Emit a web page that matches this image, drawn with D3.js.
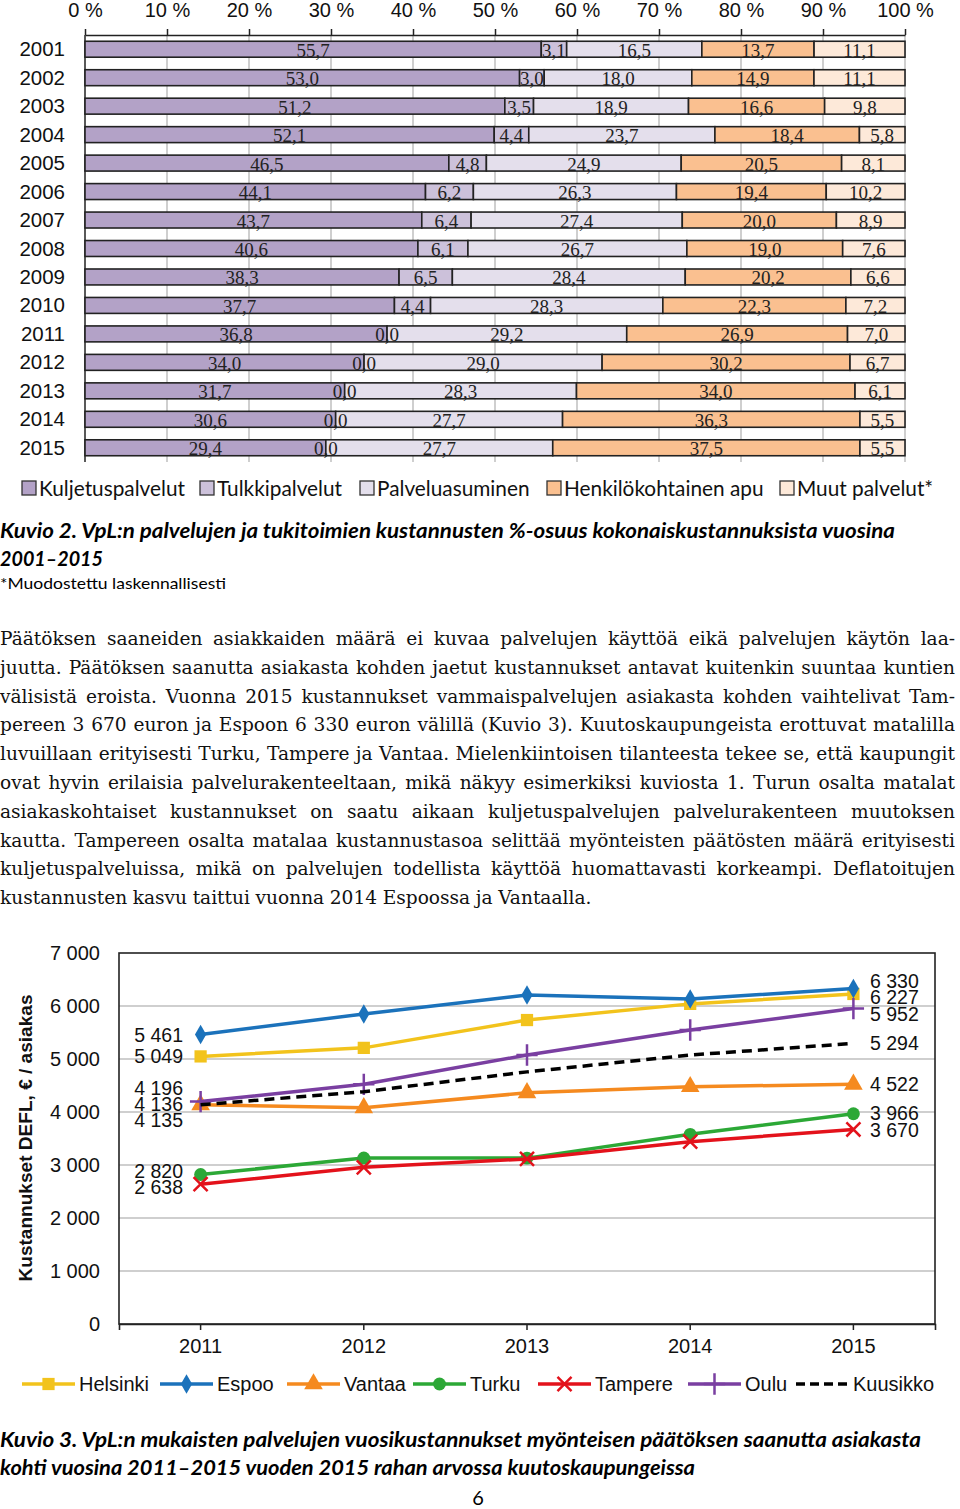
<!DOCTYPE html>
<html>
<head>
<meta charset="utf-8">
<script src="https://cdn.jsdelivr.net/npm/d3@7"></script>
<style>
  body { margin: 0; background: #fff; }
</style>
</head>
<body>
<svg id="page" width="960" height="1509"></svg>
<script>
// ---- Kuvio 2 data ----
const years = ["2001","2002","2003","2004","2005","2006","2007","2008","2009","2010","2011","2012","2013","2014","2015"];
const kuljetus = [55.7,53.0,51.2,52.1,46.5,44.1,43.7,40.6,38.3,37.7,36.8,34.0,31.7,30.6,29.4];
const tulkki   = [3.1,3.0,3.5,4.4,4.8,6.2,6.4,6.1,6.5,4.4,0.0,0.0,0.0,0.0,0.0];
const asuminen = [16.5,18.0,18.9,23.7,24.9,26.3,27.4,26.7,28.4,28.3,29.2,29.0,28.3,27.7,27.7];
const apu      = [13.7,14.9,16.6,18.4,20.5,19.4,20.0,19.0,20.2,22.3,26.9,30.2,34.0,36.3,37.5];
const muut     = [11.1,11.1,9.8,5.8,8.1,10.2,8.9,7.6,6.6,7.2,7.0,6.7,6.1,5.5,5.5];
const barKeys  = ["Kuljetuspalvelut","Tulkkipalvelut","Palveluasuminen","Henkilökohtainen apu","Muut palvelut*"];
const barColors = ["#b3a2c7","#ccc1da","#e4dfec","#fac090","#fde9d9"];
const pctTicks = [0,10,20,30,40,50,60,70,80,90,100];

// ---- Kuvio 3 data ----
const years2 = ["2011","2012","2013","2014","2015"];
const helsinki = [5049,5210,5735,6040,6227];
const espoo    = [5461,5850,6208,6130,6330];
const vantaa   = [4135,4078,4362,4478,4522];
const turku    = [2820,3132,3130,3579,3966];
const tampere  = [2638,2956,3115,3440,3670];
const oulu     = [4196,4522,5075,5547,5952];
const kuusikko = [4136,4384,4757,5075,5294];
const cities = ["Helsinki","Espoo","Vantaa","Turku","Tampere","Oulu","Kuusikko"];
const cityColors = ["#f2c31c","#1b72bb","#f58a1f","#2ca836","#e3121b","#7a3fa1","#000000"];
const yTicks2 = [0,1000,2000,3000,4000,5000,6000,7000];

const svg = d3.select("#page");
const sans = "'Liberation Sans', Arial, sans-serif";
const cal = "Lato, 'Open Sans', sans-serif";
const serif = "'Liberation Serif', 'DejaVu Serif', serif";
const bodySerif = "'DejaVu Serif', 'Liberation Serif', serif";
const comma1 = v => d3.format(".1f")(v).replace(".", ",");
const thou = v => d3.format(",")(v).replace(/,/g, " ");

// =================== Kuvio 2: 100 % stacked bars ===================
const rows = years.map((y, i) => ({
  year: y,
  [barKeys[0]]: kuljetus[i], [barKeys[1]]: tulkki[i], [barKeys[2]]: asuminen[i],
  [barKeys[3]]: apu[i], [barKeys[4]]: muut[i]
}));
const series = d3.stack().keys(barKeys).offset(d3.stackOffsetExpand)(rows);

const x1 = d3.scaleLinear().domain([0, 1]).range([85, 905]);
const y1 = d3.scaleBand().domain(years).range([35, 462]).paddingInner(0.44).paddingOuter(0.22);

const g1 = svg.append("g");
// grid
g1.selectAll("line.grid").data(pctTicks.slice(1)).join("line")
  .attr("x1", d => x1(d / 100)).attr("x2", d => x1(d / 100))
  .attr("y1", 35).attr("y2", 462)
  .attr("stroke", "#bfbfbf").attr("stroke-width", 1.5);
// top axis
const topAxis = d3.axisTop(x1).tickValues(pctTicks.map(d => d / 100))
  .tickFormat(d => Math.round(d * 100) + " %").tickSize(6).tickSizeOuter(0);
const ax1 = g1.append("g").attr("transform", "translate(0,35)").call(topAxis);
ax1.select(".domain").attr("stroke", "#222").attr("stroke-width", 1.5);
ax1.selectAll(".tick line").attr("stroke", "#222").attr("stroke-width", 1.5);
ax1.selectAll(".tick text").attr("font-family", sans).attr("font-size", 20)
  .attr("fill", "#111").attr("y", -18);
// left axis line
g1.append("line").attr("x1", 85).attr("x2", 85).attr("y1", 35).attr("y2", 462)
  .attr("stroke", "#222").attr("stroke-width", 1.5);
// year labels
g1.selectAll("text.yr").data(years).join("text")
  .attr("x", 65).attr("y", d => y1(d) + y1.bandwidth() / 2 + 7)
  .attr("text-anchor", "end").attr("font-family", sans).attr("font-size", 20.5)
  .attr("fill", "#111").text(d => d);
// bars
series.forEach((s, k) => {
  g1.append("g").selectAll("rect").data(s).join("rect")
    .attr("x", d => x1(d[0])).attr("width", d => Math.max(0, x1(d[1]) - x1(d[0])))
    .attr("y", d => y1(d.data.year)).attr("height", y1.bandwidth())
    .attr("fill", barColors[k]).attr("stroke", "#222").attr("stroke-width", 1.6);
});
series.forEach((s, k) => {
  g1.append("g").selectAll("text").data(s).join("text")
    .attr("x", d => (x1(d[0]) + x1(d[1])) / 2)
    .attr("y", d => y1(d.data.year) + y1.bandwidth() / 2 + 7.5)
    .attr("text-anchor", "middle").attr("font-family", serif).attr("font-size", 19)
    .attr("fill", "#222").text(d => comma1(d.data[s.key]));
});
// legend
const leg1X = [22, 200, 360, 547, 780];
const leg1 = g1.selectAll("g.leg").data(barKeys).join("g")
  .attr("transform", (d, i) => `translate(${leg1X[i]},481)`);
leg1.append("rect").attr("width", 14).attr("height", 14)
  .attr("fill", (d, i) => barColors[i]).attr("stroke", "#333").attr("stroke-width", 1.3);
leg1.append("text").attr("x", 17).attr("y", 14.5).attr("font-family", cal).attr("font-size", 20.8)
  .attr("fill", "#111").text(d => d);

// =================== captions & body text ===================
function cap(txt, y, w, size, bold) {
  const t = svg.append("text").attr("x", 0).attr("y", y).attr("font-family", cal)
    .attr("font-size", size).attr("fill", "#000").text(txt);
  if (bold) t.attr("font-weight", "bold").attr("font-style", "italic");
  if (w) t.attr("textLength", w).attr("lengthAdjust", "spacingAndGlyphs");
  return t;
}
cap("Kuvio 2. VpL:n palvelujen ja tukitoimien kustannusten %-osuus kokonaiskustannuksista vuosina", 538, 895, 20, true);
cap("2001–2015", 566, 103, 20, true);
cap("*Muodostettu laskennallisesti", 589, 226, 16, false);

const paragraph = [
  "Päätöksen saaneiden asiakkaiden määrä ei kuvaa palvelujen käyttöä eikä palvelujen käytön laa-",
  "juutta. Päätöksen saanutta asiakasta kohden jaetut kustannukset antavat kuitenkin suuntaa kuntien",
  "välisistä eroista. Vuonna 2015 kustannukset vammaispalvelujen asiakasta kohden vaihtelivat Tam-",
  "pereen 3 670 euron ja Espoon 6 330 euron välillä (Kuvio 3). Kuutoskaupungeista erottuvat matalilla",
  "luvuillaan erityisesti Turku, Tampere ja Vantaa. Mielenkiintoisen tilanteesta tekee se, että kaupungit",
  "ovat hyvin erilaisia palvelurakenteeltaan, mikä näkyy esimerkiksi kuviosta 1. Turun osalta matalat",
  "asiakaskohtaiset kustannukset on saatu aikaan kuljetuspalvelujen palvelurakenteen muutoksen",
  "kautta. Tampereen osalta matalaa kustannustasoa selittää myönteisten päätösten määrä erityisesti",
  "kuljetuspalveluissa, mikä on palvelujen todellista käyttöä huomattavasti korkeampi. Deflatoitujen",
  "kustannusten kasvu taittui vuonna 2014 Espoossa ja Vantaalla."
];
const pg = svg.append("g").attr("font-family", bodySerif).attr("fill", "#111");
// size the body font so the unjustified last line is as wide as in the page (~607 px)
const probe = pg.append("text").attr("font-size", 20).text(paragraph[paragraph.length - 1]);
let bodySize = 20 * 607 / probe.node().getComputedTextLength();
probe.remove();
// the longest line must still fit the column
const probe2 = pg.append("text").attr("font-size", bodySize).text(paragraph[4]);
const w5 = probe2.node().getComputedTextLength();
probe2.remove();
if (w5 > 950) bodySize *= 950 / w5;
pg.attr("font-size", bodySize);
paragraph.forEach((line, li) => {
  const y = 645 + li * 28.8;
  const words = line.split(" ");
  const texts = words.map(w => pg.append("text").attr("y", y).text(w));
  const widths = texts.map(t => t.node().getComputedTextLength());
  const total = d3.sum(widths);
  const justify = li < paragraph.length - 1;
  let gap = justify ? (955 - total) / (words.length - 1) : bodySize * 0.3;
  if (gap < 2) gap = 2;
  let xx = 0;
  texts.forEach((t, i) => { t.attr("x", xx); xx += widths[i] + gap; });
});

// =================== Kuvio 3: lines ===================
const x2 = d3.scaleBand().domain(years2).range([119, 935]);
const px = d => x2(d) + x2.bandwidth() / 2;
const y2 = d3.scaleLinear().domain([0, 7000]).range([1324, 953]);
const g2 = svg.append("g");

g2.selectAll("line.grid").data(yTicks2.slice(1, -1)).join("line")
  .attr("x1", 119).attr("x2", 935).attr("y1", d => y2(d)).attr("y2", d => y2(d))
  .attr("stroke", "#bfbfbf").attr("stroke-width", 1.5);
g2.append("rect").attr("x", 119).attr("y", y2(7000)).attr("width", 816).attr("height", y2(0) - y2(7000))
  .attr("fill", "none").attr("stroke", "#222").attr("stroke-width", 1.6);
// y tick labels
g2.selectAll("text.yt").data(yTicks2).join("text")
  .attr("x", 100).attr("y", d => y2(d) + 7).attr("text-anchor", "end")
  .attr("font-family", sans).attr("font-size", 20).attr("fill", "#111").text(thou);
// x axis
const bottomAxis = d3.axisBottom(x2).tickSize(6).tickSizeOuter(6);
const ax2 = g2.append("g").attr("transform", `translate(0,${y2(0)})`).call(bottomAxis);
ax2.select(".domain").attr("stroke", "#222").attr("stroke-width", 1.6);
ax2.selectAll(".tick line").attr("stroke", "#222").attr("stroke-width", 1.5);
ax2.selectAll(".tick text").attr("font-family", sans).attr("font-size", 20).attr("fill", "#111").attr("y", 15);
// y title
g2.append("text").attr("transform", "translate(32,1138) rotate(-90)").attr("text-anchor", "middle")
  .attr("font-family", sans).attr("font-weight", "bold").attr("font-size", 19).attr("fill", "#111")
  .attr("textLength", 287).attr("lengthAdjust", "spacingAndGlyphs")
  .text("Kustannukset DEFL, € / asiakas");

const cityVals = [helsinki, espoo, vantaa, turku, tampere, oulu, kuusikko];
const markerTypes = [d3.symbolSquare, d3.symbolDiamond, d3.symbolTriangle, d3.symbolCircle, d3.symbolTimes, d3.symbolPlus, null];
const markerSizes = [150, 110, 150, 130, 130, 150, 0];
const strokeMarker = [false, false, false, false, true, true, false];
const lineGen = d3.line().x((d, i) => px(years2[i])).y(d => y2(d));

function drawMarker(sel, k) {
  if (!markerTypes[k]) return;
  const p = sel.append("path").attr("d", d3.symbol().type(markerTypes[k]).size(markerSizes[k]));
  if (strokeMarker[k]) p.attr("fill", "none").attr("stroke", cityColors[k]).attr("stroke-width", 2.5);
  else p.attr("fill", cityColors[k]);
}

cityVals.forEach((vals, k) => {
  g2.append("path").datum(vals).attr("d", lineGen).attr("fill", "none")
    .attr("stroke", cityColors[k]).attr("stroke-width", 3.5)
    .attr("stroke-dasharray", k === 6 ? "10,6" : null);
  vals.forEach((v, i) => {
    const m = g2.append("g").attr("transform", `translate(${px(years2[i])},${y2(v)})`);
    drawMarker(m, k);
  });
});

// end labels (first and last year), spread apart where they collide
function spread(items, gap) {
  items.sort((a, b) => a.y - b.y);
  for (let it = 0; it < 200; it++) {
    for (let i = 1; i < items.length; i++) {
      const d = items[i].y - items[i - 1].y;
      if (d < gap) { const s = (gap - d) / 2; items[i - 1].y -= s; items[i].y += s; }
    }
  }
  return items;
}
const leftLab = spread(cityVals.map(v => ({ v: v[0], y: y2(v[0]) })), 16);
const rightLab = spread(cityVals.map(v => ({ v: v[4], y: y2(v[4]) })), 16.5);
g2.selectAll("text.ll").data(leftLab).join("text")
  .attr("x", 183).attr("y", d => d.y + 7).attr("text-anchor", "end")
  .attr("font-family", sans).attr("font-size", 19.5).attr("fill", "#111").text(d => thou(d.v));
g2.selectAll("text.rl").data(rightLab).join("text")
  .attr("x", 870).attr("y", d => d.y + 7).attr("text-anchor", "start")
  .attr("font-family", sans).attr("font-size", 19.5).attr("fill", "#111").text(d => thou(d.v));

// legend
const leg2X = [22, 160, 287, 413, 538, 688, 796];
cities.forEach((c, k) => {
  const lg = g2.append("g").attr("transform", `translate(${leg2X[k]},1384)`);
  lg.append("line").attr("x1", 0).attr("x2", 53).attr("stroke", cityColors[k]).attr("stroke-width", 3.5)
    .attr("stroke-dasharray", k === 6 ? "9,5" : null);
  const m = lg.append("g").attr("transform", "translate(26.5,0)");
  drawMarker(m, k);
  lg.append("text").attr("x", 57).attr("y", 7).attr("font-family", sans).attr("font-size", 20)
    .attr("fill", "#111").text(c);
});

cap("Kuvio 3. VpL:n mukaisten palvelujen vuosikustannukset myönteisen päätöksen saanutta asiakasta", 1447, 921, 20, true);
cap("kohti vuosina 2011–2015 vuoden 2015 rahan arvossa kuutoskaupungeissa", 1475, 695, 20, true);
svg.append("text").attr("x", 478).attr("y", 1505).attr("text-anchor", "middle")
  .attr("font-family", cal).attr("font-size", 20).attr("fill", "#000").text("6");
</script>
</body>
</html>
